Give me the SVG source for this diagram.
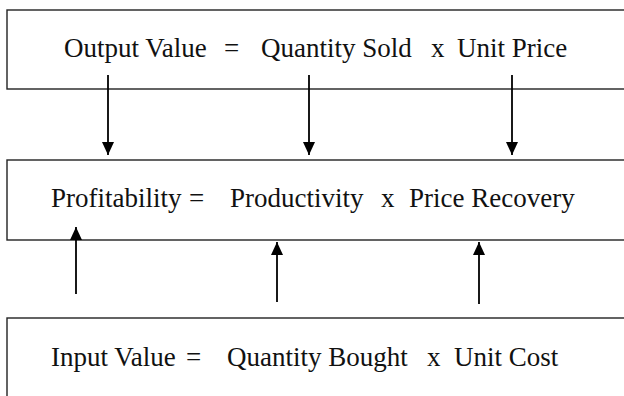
<svg xmlns="http://www.w3.org/2000/svg" width="624" height="396" viewBox="0 0 624 396">
<style>
.box{fill:#fff;stroke:#222;stroke-width:1.4}
.t{font-family:"Liberation Serif","Times New Roman","DejaVu Serif",serif;font-size:27px;fill:#111}
.c{stroke:#000;stroke-width:1.8;fill:none;marker-end:url(#ah)}
</style>
<defs>
<marker id="ah" markerUnits="userSpaceOnUse" markerWidth="13" markerHeight="12" refX="13" refY="6" orient="auto">
<path d="M0,0 L13,6 L0,12 z" fill="#000"/>
</marker>
</defs>
<g id="output">
<rect class="box" x="7" y="10" width="640" height="79"/>
<text class="t" y="57"><tspan x="64">Output Value</tspan><tspan x="224">=</tspan><tspan x="261">Quantity Sold</tspan><tspan x="431">x</tspan><tspan x="457">Unit Price</tspan></text>
</g>
<g id="profit">
<rect class="box" x="7" y="160" width="640" height="80"/>
<text class="t" y="207"><tspan x="51">Profitability</tspan><tspan x="189">=</tspan><tspan x="230">Productivity</tspan><tspan x="381">x</tspan><tspan x="409">Price Recovery</tspan></text>
</g>
<g id="input">
<rect class="box" x="7" y="318" width="640" height="100"/>
<text class="t" y="366"><tspan x="51">Input Value</tspan><tspan x="186">=</tspan><tspan x="227">Quantity Bought</tspan><tspan x="427">x</tspan><tspan x="454">Unit Cost</tspan></text>
</g>
<g id="connectors">
<line class="c" x1="108" y1="75" x2="108" y2="155"/>
<line class="c" x1="309" y1="75" x2="309" y2="155"/>
<line class="c" x1="512" y1="75" x2="512" y2="155"/>
<line class="c" x1="76" y1="294" x2="76" y2="227"/>
<line class="c" x1="277" y1="302" x2="277" y2="242"/>
<line class="c" x1="479" y1="304" x2="479" y2="242"/>
</g>
</svg>
